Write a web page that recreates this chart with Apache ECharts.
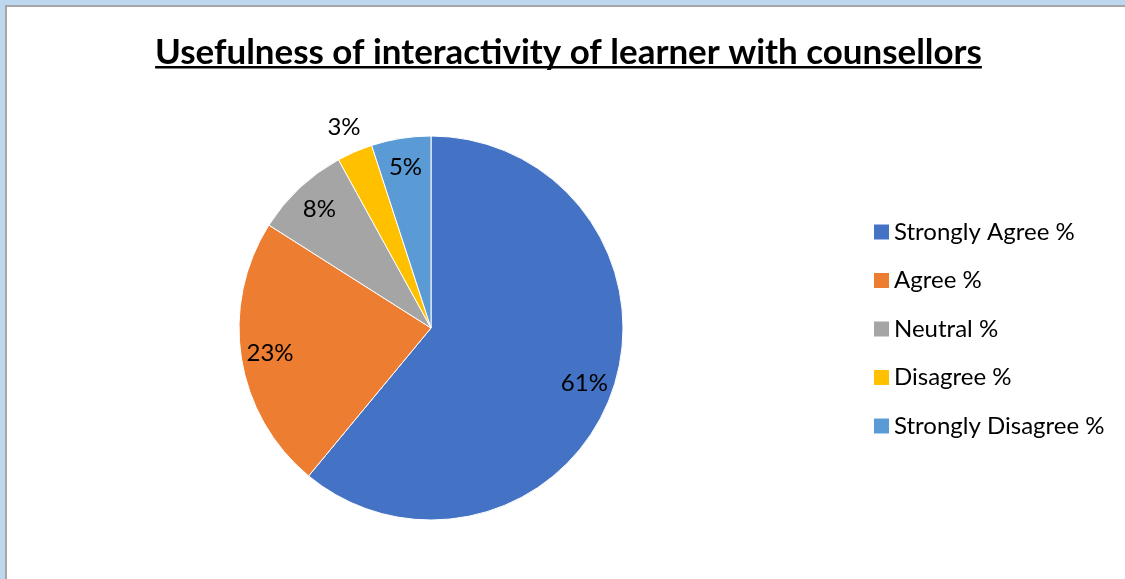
<!DOCTYPE html>
<html><head><meta charset="utf-8">
<script src="https://cdn.jsdelivr.net/npm/echarts@6/dist/echarts.min.js"></script>
<style>
html,body{margin:0;padding:0;width:1125px;height:579px;overflow:hidden;background:#BDD7EE;}
#wrap{position:absolute;left:5px;top:5px;width:1120px;height:574px;background:#A6A6A6;}
#chart{position:absolute;left:7px;top:7px;width:1118px;height:572px;background:#fff;}
</style></head><body>
<div id="wrap"></div><div id="chart"></div>
<script>
const titleText = 'Usefulness of interactivity of learner with counsellors';
const categories = ['Strongly Agree %', 'Agree %', 'Neutral %', 'Disagree %', 'Strongly Disagree %'];
const values = [61, 23, 8, 3, 5];
const colors = ['#4472C4', '#ED7D31', '#A5A5A5', '#FFC000', '#5B9BD5'];
const labelOutside = [false, false, false, true, false];

const FONT = 'Lato, sans-serif';

function render() {
  const cvs = document.createElement('canvas').getContext('2d');
  cvs.font = 'bold 30px ' + FONT;
  let tw = cvs.measureText(titleText).width;
  const titleSize = Math.max(24, Math.min(36, 30 * 827 / tw));
  cvs.font = 'bold ' + titleSize + 'px ' + FONT;
  tw = cvs.measureText(titleText).width;
  const titleLeft = 561.5 - tw / 2;
  const titleTop = 28;

  const chart = echarts.init(document.getElementById('chart'), null, {renderer: 'canvas'});
  const center = [424, 321];
  function mkData(transparent, showFn) {
    return categories.map((n, i) => ({
      name: n,
      value: values[i],
      itemStyle: {color: transparent ? 'rgba(0,0,0,0)' : colors[i], borderWidth: transparent ? 0 : 1, borderColor: '#fff'},
      label: {show: showFn ? showFn(i) : false}
    }));
  }
  const labelStyle = {position: 'inside', formatter: '{c}%', color: '#000', fontFamily: FONT, fontSize: 24};
  chart.setOption({
    animation: false,
    title: {
      text: titleText, left: titleLeft, top: titleTop, padding: 0,
      textStyle: {fontFamily: FONT, fontWeight: 'bold', fontSize: titleSize, color: '#000'}
    },
    legend: {
      orient: 'vertical', left: 862, top: 207, icon: 'rect', itemWidth: 15, itemHeight: 15, itemGap: 22.5,
      itemTextGap: 5,
      data: categories, selectedMode: false,
      itemStyle: {borderWidth: 0},
      textStyle: {fontFamily: FONT, fontSize: 24, color: '#000', lineHeight: 26}
    },
    graphic: [{
      type: 'rect', silent: true,
      shape: {x: titleLeft, y: 59, width: tw, height: 2.5},
      style: {fill: '#000'}
    }],
    series: [
      {type: 'pie', radius: [0, 192], center: center, startAngle: 90, clockwise: true, silent: true,
        label: {show: false}, labelLine: {show: false}, emphasis: {disabled: true},
        data: mkData(false)},
      {type: 'pie', radius: [128, 192], center: center, startAngle: 90, clockwise: true, silent: true,
        label: labelStyle, labelLine: {show: false}, emphasis: {disabled: true}, legendHoverLink: false,
        data: mkData(true, i => !labelOutside[i])},
      {type: 'pie', radius: [192, 240], center: center, startAngle: 90, clockwise: true, silent: true,
        label: labelStyle, labelLine: {show: false}, emphasis: {disabled: true}, legendHoverLink: false,
        data: mkData(true, i => labelOutside[i])}
    ]
  });
}
if (document.fonts && document.fonts.load) {
  Promise.all([document.fonts.load('bold 30px Lato'), document.fonts.load('24px Lato')]).then(render, render);
} else { render(); }
</script>
</body></html>
